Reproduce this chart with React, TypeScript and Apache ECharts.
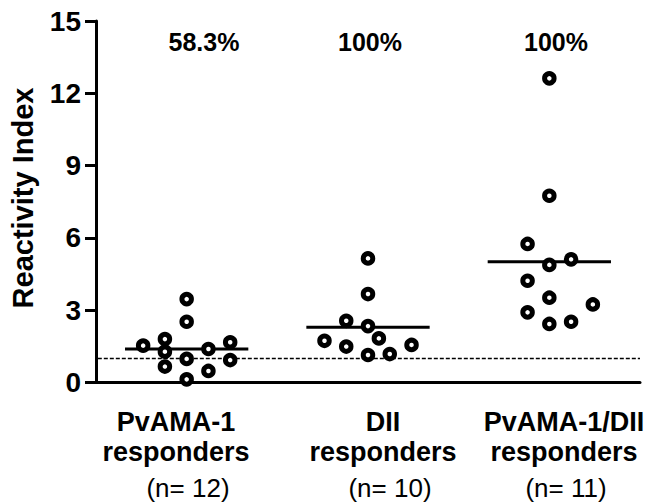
import React, { useEffect, useRef } from "react";
import * as echarts from "echarts";

// ---- data ----
const groupNames = ["PvAMA-1", "DII", "PvAMA-1/DII"];
const groupSub = ["responders", "responders", "responders"];
const groupCounts = ["(n= 12)", "(n= 10)", "(n= 11)"];
const percentLabels = ["58.3%", "100%", "100%"];

// values (Reactivity Index) and horizontal jitter offsets (in category units)
const pvama1Values = [3.46, 2.52, 1.53, 1.8, 1.28, 0.66, 0.98, 0.13, 1.39, 0.48, 1.67, 0.93];
const pvama1Jitter = [0, 0, -0.24, -0.12, -0.12, -0.12, 0, 0, 0.12, 0.12, 0.24, 0.24];
const diiValues = [5.15, 3.67, 2.56, 2.34, 1.73, 1.49, 1.83, 1.14, 1.18, 1.56];
const diiJitter = [0, 0, -0.12, 0, -0.24, -0.12, 0.06, 0, 0.12, 0.24];
const bothValues = [12.62, 7.75, 5.75, 4.88, 5.11, 4.22, 3.52, 3.24, 2.91, 2.43, 2.52];
const bothJitter = [0, 0, -0.12, 0, 0.12, -0.12, 0, 0.24, -0.12, 0, 0.12];
const groupMeans = [1.39, 2.29, 5.01];
const cutoff = 1;
const yMin = 0;
const yMax = 15;
const yInterval = 3;

const FONT = "'Liberation Sans', Arial, Helvetica, sans-serif";

export default function App() {
  const ref = useRef<HTMLDivElement>(null);
  useEffect(() => {
    if (!ref.current) return;
    const chart = echarts.init(ref.current, null, { renderer: "svg" });
    const values = [pvama1Values, diiValues, bothValues];
    const jitters = [pvama1Jitter, diiJitter, bothJitter];
    const halfWidth = 0.34;

    const scatterSeries = values.map((vals, g) => ({
      type: "scatter",
      z: 5,
      symbol: "circle",
      symbolSize: 9.5,
      itemStyle: { color: "#ffffff", borderColor: "#000000", borderWidth: 5, opacity: 1 },
      data: vals.map((v, i) => [g + 0.5 + jitters[g][i], v]),
    }));

    const meanSeries = groupMeans.map((m, g) => ({
      type: "line",
      z: 3,
      symbol: "none",
      lineStyle: { color: "#000000", width: 3 },
      data: [
        [g + 0.5 - halfWidth, m],
        [g + 0.5 + halfWidth, m],
      ],
    }));

    const cutoffSeries = {
      type: "line",
      z: 2,
      symbol: "none",
      lineStyle: { color: "#000000", width: 1.5, type: [4, 2] },
      data: [
        [0.01, cutoff],
        [3, cutoff],
      ],
    };

    const labelX1 = [176, 383, 564];
    const labelX3 = [188, 390, 566];
    const pctX = [204, 370, 556];

    const graphics: any[] = [];
    groupNames.forEach((name, g) => {
      graphics.push({
        type: "text",
        x: labelX1[g],
        y: 422,
        style: { text: name, font: `bold 27px ${FONT}`, fill: "#000", align: "center", verticalAlign: "middle" },
      });
      graphics.push({
        type: "text",
        x: labelX1[g],
        y: 452,
        style: { text: groupSub[g], font: `bold 27px ${FONT}`, fill: "#000", align: "center", verticalAlign: "middle" },
      });
      graphics.push({
        type: "text",
        x: labelX3[g],
        y: 488,
        style: { text: groupCounts[g], font: `26px ${FONT}`, fill: "#000", align: "center", verticalAlign: "middle" },
      });
      graphics.push({
        type: "text",
        x: pctX[g],
        y: 42,
        style: { text: percentLabels[g], font: `bold 25px ${FONT}`, fill: "#000", align: "center", verticalAlign: "middle" },
      });
    });
    graphics.push({
      type: "text",
      x: 23,
      y: 198,
      rotation: Math.PI / 2,
      style: { text: "Reactivity Index", font: `bold 29px ${FONT}`, fill: "#000", align: "center", verticalAlign: "middle" },
    });

    chart.setOption({
      animation: false,
      backgroundColor: "#ffffff",
      grid: { left: 96, right: 7, top: 21, bottom: 120.5 },
      xAxis: {
        type: "value",
        min: 0,
        max: 3,
        axisLine: { show: true, lineStyle: { color: "#000", width: 3 } },
        axisTick: { show: false },
        axisLabel: { show: false },
        splitLine: { show: false },
      },
      yAxis: {
        type: "value",
        min: yMin,
        max: yMax,
        interval: yInterval,
        axisLine: { show: true, lineStyle: { color: "#000", width: 3 } },
        axisTick: { show: true, length: 11, lineStyle: { color: "#000", width: 3 } },
        axisLabel: { color: "#000", fontSize: 28, fontWeight: "bold", fontFamily: FONT, margin: 15 },
        splitLine: { show: false },
      },
      graphic: graphics,
      series: [cutoffSeries, ...meanSeries, ...scatterSeries],
    });
    return () => chart.dispose();
  }, []);
  return (
    <div
      ref={ref}
      style={{ position: "fixed", left: 0, top: 0, width: 647, height: 503, background: "#fff" }}
    />
  );
}
